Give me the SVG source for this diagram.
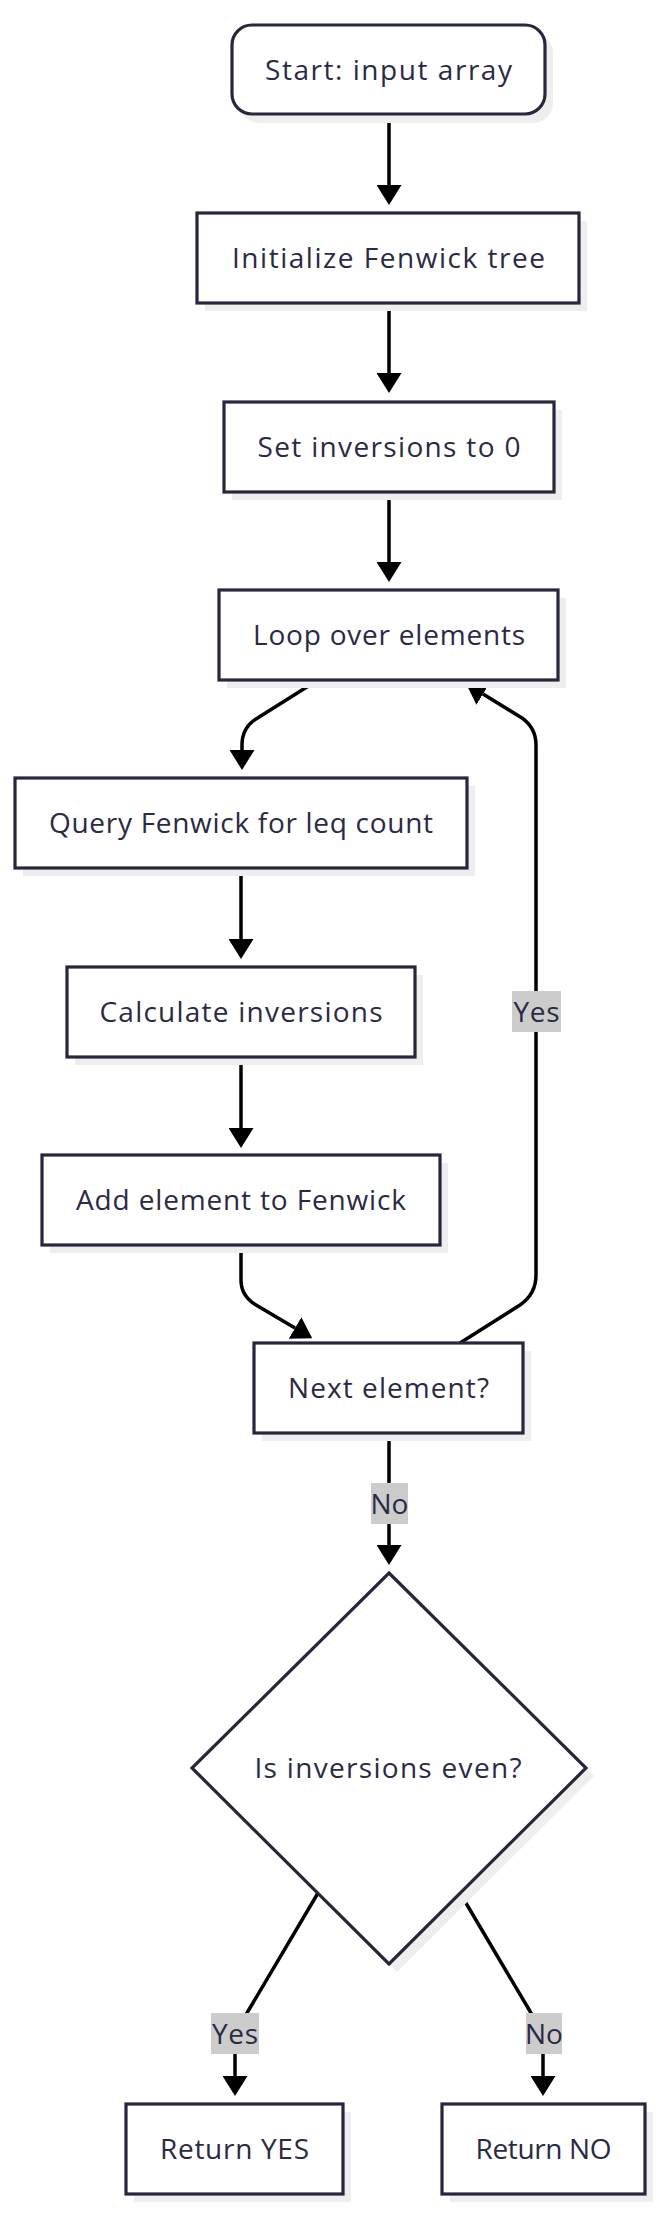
<svg xmlns="http://www.w3.org/2000/svg" width="660" height="2219" viewBox="0 0 660 2219">
<style>
.bg{fill:#ffffff}
.sh{fill:#eeeeee}
.nd{fill:#ffffff;stroke:#27263c;stroke-width:3.2}
.tx{font-family:"Open Sans","Liberation Sans",sans-serif;font-size:28px;fill:#2b2a45;text-anchor:middle}
.ed{fill:none;stroke:#000000;stroke-width:3.5}
.lb{fill:#cccccc}
</style>
<defs>
<marker id="ah" viewBox="0 0 20 25" refX="0" refY="12.5" markerWidth="20" markerHeight="25" markerUnits="userSpaceOnUse" orient="auto">
<path d="M0,0 L20,12.5 L0,25 z" fill="#000000"/>
</marker>
</defs>
<rect class="bg" x="0" y="0" width="660" height="2219"/>
<g id="connectors">
<path class="ed" d="M389,113 V185" marker-end="url(#ah)"/>
<path class="ed" d="M389,303 V373" marker-end="url(#ah)"/>
<path class="ed" d="M389,492 V562" marker-end="url(#ah)"/>
<path class="ed" d="M318,680 L256,719 Q242,728 242,745 L242,750" marker-end="url(#ah)"/>
<path class="ed" d="M241,868 V939" marker-end="url(#ah)"/>
<path class="ed" d="M241,1057 V1128" marker-end="url(#ah)"/>
<path class="ed" d="M241,1245 L241,1280 Q241,1296 256,1305 L295,1328" marker-end="url(#ah)"/>
<path class="ed" d="M460,1343 L520,1305 Q536,1294 536,1275 L536,745 Q536,728 522,718 L483,694" marker-end="url(#ah)"/>
<path class="ed" d="M389,1433 V1545" marker-end="url(#ah)"/>
<path class="ed" d="M318,1893 L244,2018 Q235,2033 235,2050 L235,2076" marker-end="url(#ah)"/>
<path class="ed" d="M460,1893 L534,2018 Q543,2033 543,2050 L543,2076" marker-end="url(#ah)"/>
<g id="label-yes-loop"><rect class="lb" x="512" y="991" width="49" height="41"/><text class="tx" x="536.5" y="1021.5" textLength="46" lengthAdjust="spacing">Yes</text></g>
<g id="label-no-next"><rect class="lb" x="371" y="1483" width="37" height="41"/><text class="tx" x="389.5" y="1513.5">No</text></g>
<g id="label-yes-even"><rect class="lb" x="211" y="2013" width="48" height="41"/><text class="tx" x="235" y="2043.5" textLength="46" lengthAdjust="spacing">Yes</text></g>
<g id="label-no-even"><rect class="lb" x="526" y="2013" width="36" height="41"/><text class="tx" x="544" y="2043.5">No</text></g>
</g>
<g id="start">
<rect class="sh" x="240" y="33" width="313" height="90" rx="20"/>
<rect class="nd" x="232" y="25" width="313" height="89" rx="20"/>
<text class="tx" x="388.5" y="80" textLength="247" lengthAdjust="spacing">Start: input array</text>
</g>
<g id="init">
<rect class="sh" x="205" y="221" width="382" height="90"/>
<rect class="nd" x="197" y="213" width="382" height="90"/>
<text class="tx" x="388.5" y="268" textLength="313" lengthAdjust="spacing">Initialize Fenwick tree</text>
</g>
<g id="setinv">
<rect class="sh" x="232" y="410" width="330" height="90"/>
<rect class="nd" x="224" y="402" width="330" height="90"/>
<text class="tx" x="389" y="457" textLength="263" lengthAdjust="spacing">Set inversions to 0</text>
</g>
<g id="loop">
<rect class="sh" x="227" y="598" width="339" height="90"/>
<rect class="nd" x="219" y="590" width="339" height="90"/>
<text class="tx" x="389" y="645" textLength="272" lengthAdjust="spacing">Loop over elements</text>
</g>
<g id="query">
<rect class="sh" x="23" y="786" width="452" height="90"/>
<rect class="nd" x="15" y="778" width="452" height="90"/>
<text class="tx" x="241" y="833" textLength="384" lengthAdjust="spacing">Query Fenwick for leq count</text>
</g>
<g id="calc">
<rect class="sh" x="75" y="975" width="348" height="90"/>
<rect class="nd" x="67" y="967" width="348" height="90"/>
<text class="tx" x="241" y="1022" textLength="283" lengthAdjust="spacing">Calculate inversions</text>
</g>
<g id="add">
<rect class="sh" x="50" y="1163" width="398" height="90"/>
<rect class="nd" x="42" y="1155" width="398" height="90"/>
<text class="tx" x="241" y="1210" textLength="330" lengthAdjust="spacing">Add element to Fenwick</text>
</g>
<g id="next">
<rect class="sh" x="262" y="1351" width="269" height="90"/>
<rect class="nd" x="254" y="1343" width="269" height="90"/>
<text class="tx" x="388.5" y="1398" textLength="201" lengthAdjust="spacing">Next element?</text>
</g>
<g id="even">
<polygon class="sh" points="397,1581 594,1776 397,1972 200,1776"/>
<polygon class="nd" points="389,1573 586,1768 389,1964 192,1768"/>
<text class="tx" x="388" y="1778" textLength="267" lengthAdjust="spacing">Is inversions even?</text>
</g>
<g id="retyes">
<rect class="sh" x="134" y="2112" width="217" height="90"/>
<rect class="nd" x="126" y="2104" width="217" height="90"/>
<text class="tx" x="234.5" y="2159" textLength="149" lengthAdjust="spacing">Return YES</text>
</g>
<g id="retno">
<rect class="sh" x="450" y="2112" width="203" height="90"/>
<rect class="nd" x="442" y="2104" width="203" height="90"/>
<text class="tx" x="543.5" y="2159" textLength="136" lengthAdjust="spacing">Return NO</text>
</g>
</svg>
